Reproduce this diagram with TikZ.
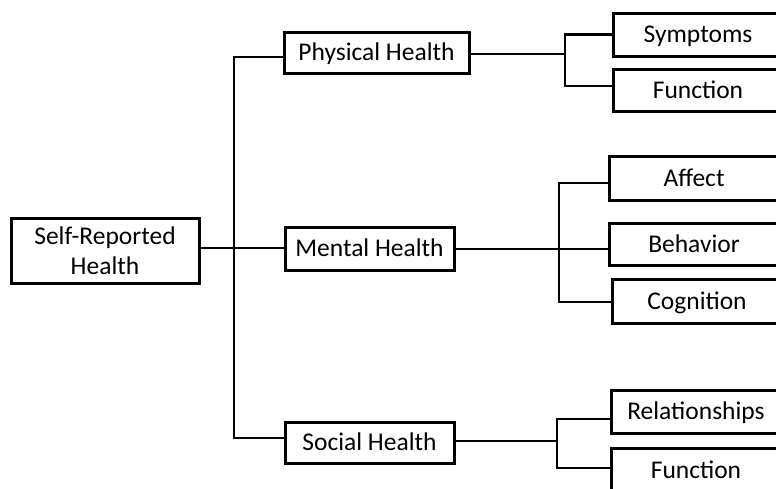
\documentclass[tikz,border=0pt]{standalone}
\usepackage{fontspec}
\setmainfont{Carlito}
\usepackage{tikz}

\begin{document}
\begin{tikzpicture}[x=1pt,y=-1pt,
    box/.style={draw,line width=3pt,inner sep=0pt,align=center,
      font=\fontsize{25.5}{30}\selectfont},
    oneline/.style={text height=19.5pt,text depth=3pt},
    link/.style={line width=2.3pt}]
      \useasboundingbox (0,0) rectangle (776,488);
      \clip (0,0) rectangle (776,488);
      % root and first level
      \node[box,minimum width=188pt,minimum height=65pt] (root) at (105,250.5) {Self-Reported\\Health};
      \node[box,oneline,minimum width=185pt,minimum height=41pt] (phys) at (376.5,52.5) {Physical Health};
      \node[box,oneline,minimum width=169pt,minimum height=43pt] (ment) at (369.5,248.5) {Mental Health};
      \node[box,oneline,minimum width=169pt,minimum height=41pt] (soc) at (369.5,442.5) {Social Health};
      % second level
      \begin{scope}[every node/.style={box,oneline,minimum width=170pt}]
        \node[minimum height=43pt] (sym) at (698,34.5) {Symptoms};
        \node[minimum height=42pt] (funp) at (698,90) {Function};
        \node[minimum height=44pt] (aff) at (694,178) {Affect};
        \node[minimum height=42pt] (beh) at (694,244) {Behavior};
        \node[minimum height=44pt] (cog) at (697,301) {Cognition};
        \node[minimum height=43pt] (rel) at (696,411.5) {Relationships};
        \node[minimum height=44pt] (funs) at (696,470) {Function};
      \end{scope}
      % connectors
      \coordinate (trunk) at (234,248);
      \draw[link] (root.east |- trunk) -- (trunk);
      \draw[link] (phys.west |- 0,57) -| (trunk) |- (soc.west |- 0,438);
      \draw[link] (trunk) -- (ment.west |- trunk);
      \draw[link] (phys.east |- 0,54) -- (565,54) coordinate (pf);
      \draw[link] (sym.west) -| (pf) |- (funp.west |- 0,86);
      \draw[link] (ment.east |- 0,249) -- (559,249) coordinate (mf);
      \draw[link] (aff.west |- 0,183) -| (mf) |- (cog.west |- 0,302);
      \draw[link] (mf) -- (beh.west |- mf);
      \draw[link] (soc.east |- 0,441) -- (557,441) coordinate (sf);
      \draw[link] (rel.west |- 0,419) -| (sf) |- (funs.west |- 0,468);
    \end{tikzpicture}
\end{document}
